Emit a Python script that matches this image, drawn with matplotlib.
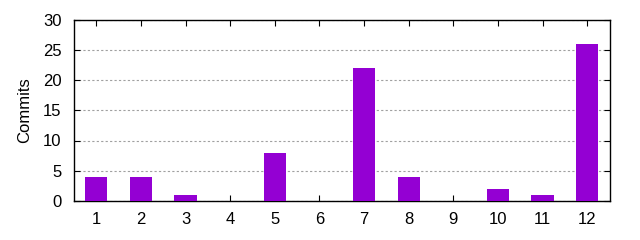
import matplotlib
matplotlib.use("Agg")
import matplotlib.pyplot as plt

months = [1, 2, 3, 4, 5, 6, 7, 8, 9, 10, 11, 12]
commits = [4, 4, 1, 0, 8, 0, 22, 4, 0, 2, 1, 26]

plt.rcParams["font.family"] = ["Liberation Sans", "DejaVu Sans"]
plt.rcParams["font.size"] = 12

fig = plt.figure(figsize=(6.4, 2.4), dpi=100)
ax = fig.add_axes([74 / 640, 1 - 201 / 240, (609.5 - 74) / 640, (201 - 19.5) / 240])

ax.bar(months, commits, width=0.5, color="#9400d3", zorder=3)

ax.set_xlim(0.5, 12.5)
ax.set_ylim(0, 30)
ax.set_xticks(months)
ax.set_yticks(range(0, 31, 5))
ax.yaxis.grid(True, linestyle=(0, (2, 2)), color="#a0a0a0", linewidth=0.8, zorder=0)
ax.tick_params(direction="in", top=True, right=True, length=4, width=0.8)
ax.tick_params(axis="x", pad=8)
ax.tick_params(axis="y", pad=9)
for s in ax.spines.values():
    s.set_linewidth(1.0)
ax.set_ylabel("Commits", labelpad=8)

fig.savefig("out.png", dpi=100)
